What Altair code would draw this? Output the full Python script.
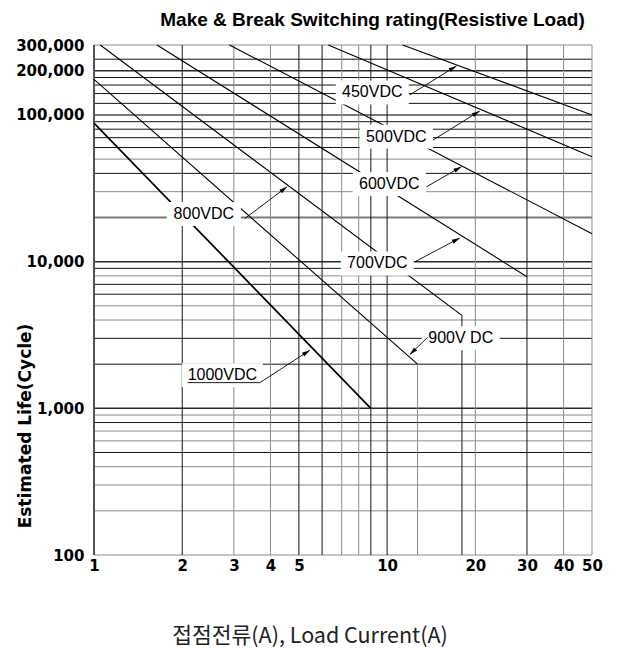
import math
import altair as alt
import pandas as pd

# ---------------- data ----------------
x_ticks = [1, 2, 3, 4, 5, 10, 20, 30, 40, 50]
y_ticks = [100, 1000, 10000, 100000, 200000, 300000]

# vertical grid lines (load current, A)
v_border = [1]
v_grid_dark = [2, 5, 6, 8.8, 10, 30]
v_grid_gray = [3, 4, 7, 8, 20, 40, 50]

# horizontal grid lines (cycles)
h_grid_dark = [240000, 180000, 160000, 140000, 120000, 90000, 80000, 70000,
               60000, 40000, 9000, 7000, 6000, 3000, 2000, 800, 500]
h_grid_gray = [300000, 50000, 30000, 8000, 5000, 4000, 900, 700, 600, 400,
               300, 200, 100]
h_grid_bold_dark = [200000, 10000, 1000]
h_grid_bold_gray = [100000, 20000]

# rating curves (straight lines on log-log paper)
series = ["450VDC", "500VDC", "600VDC", "700VDC", "800VDC", "900V DC", "1000VDC"]
start_current = [11.3, 6.3, 2.9, 1.64, 1.05, 1.0, 1.0]
start_life = [300000, 300000, 300000, 300000, 300000, 175000, 88000]
end_current = [50, 50, 50, 30, 18, 12.7, 8.8]
end_life = [100000, 52000, 15500, 7900, 4300, 2000, 1000]

# annotation labels (data coordinates)
label_x = [8.9, 10.75, 10.17, 9.26, 2.37, 17.83, 2.74]
label_y = [142500, 71100, 33800, 9720, 21100, 3000, 1680]
arrow_from_x = [11.95, 14.35, 13.63, 12.43, 3.27, 13.73, 3.68]
arrow_from_y = [137000, 67500, 32400, 9970, 19700, 3040, 1497]
arrow_to_x = [17.25, 20.7, 17.93, 17.7, 4.56, 11.95, 5.45]
arrow_to_y = [216000, 106500, 44400, 14500, 32400, 2325, 2489]
underline_start_x = 2.087   # leader under "1000VDC"

title_text = "Make & Break Switching rating(Resistive Load)"
x_title_text = "접점전류(A), Load Current(A)"
y_title_text = "Estimated Life(Cycle)"

# ---------------- layout / style ----------------
W, H = 498, 510
DARK = "#141414"
GRAY = "#8c8c8c"
box_w = [73, 73, 73, 73, 74, 78, 81]
box_h = 24

xs = alt.Scale(type="log", domain=[1, 50], nice=False)
ys = alt.Scale(type="log", domain=[100, 300000], nice=False)

x_axis = alt.Axis(values=x_ticks, format="d", labelFont="DejaVu Sans",
                  labelFontWeight="bold", labelFontSize=15, labelColor="black",
                  labelPadding=3, ticks=False, domain=False, grid=False,
                  labelFlush=False, labelOverlap=False, title=None)
y_axis = alt.Axis(values=y_ticks, format=",d", labelFont="DejaVu Sans",
                  labelFontWeight="bold", labelFontSize=15, labelColor="black",
                  labelPadding=10, ticks=False, domain=False, grid=False,
                  labelFlush=False, labelOverlap=False, title=None)


def X(f="I"):
    return alt.X(f"{f}:Q", scale=xs, axis=x_axis)


def Y(f="N"):
    return alt.Y(f"{f}:Q", scale=ys, axis=y_axis)


layers = []

# horizontal grid
for vals, col, sw in [(h_grid_gray, GRAY, 1), (h_grid_dark, DARK, 1),
                      (h_grid_bold_gray, "#7a7a7a", 2.2),
                      (h_grid_bold_dark, "#2a2a2a", 1.5)]:
    df = pd.DataFrame({"N": vals, "I": 1, "I2": 50})
    layers.append(alt.Chart(df).mark_rule(color=col, strokeWidth=sw)
                  .encode(x=X(), x2="I2:Q", y=Y()))

# vertical grid
for vals, col, sw in [(v_grid_gray, GRAY, 1), (v_grid_dark, DARK, 1),
                      (v_border, "#555555", 2)]:
    df = pd.DataFrame({"I": vals, "N": 300000, "N2": 100})
    layers.append(alt.Chart(df).mark_rule(color=col, strokeWidth=sw)
                  .encode(x=X(), y=Y(), y2="N2:Q"))

# partial vertical drops below the 900V DC and 800VDC curve ends
i900, i800 = series.index("900V DC"), series.index("800VDC")
for idx, col in [(i900, GRAY), (i800, DARK)]:
    df = pd.DataFrame({"I": [end_current[idx]], "N": [end_life[idx]], "N2": [100]})
    layers.append(alt.Chart(df).mark_rule(color=col, strokeWidth=1)
                  .encode(x=X(), y=Y(), y2="N2:Q"))

# curves
rows = []
for s, a, b, c, d in zip(series, start_current, start_life, end_current, end_life):
    rows.append({"s": s, "I": a, "N": b})
    rows.append({"s": s, "I": c, "N": d})
curves = pd.DataFrame(rows)
layers.append(alt.Chart(curves[curves.s != "1000VDC"]).mark_line(color="black", strokeWidth=1.1)
              .encode(x=X(), y=Y(), detail="s:N"))
layers.append(alt.Chart(curves[curves.s == "1000VDC"]).mark_line(color="black", strokeWidth=1.7)
              .encode(x=X(), y=Y(), detail="s:N"))

# white label boxes
for s, lx, ly, bw in zip(series, label_x, label_y, box_w):
    df = pd.DataFrame({"s": [s], "I": [lx], "N": [ly]})
    layers.append(alt.Chart(df).mark_rect(color="white", xOffset=-bw / 2, x2Offset=bw / 2,
                                          yOffset=-box_h / 2, y2Offset=box_h / 2)
                  .encode(x=X(), x2="I:Q", y=Y(), y2="N:Q"))

# leader lines
arows = []
for k, s in enumerate(series):
    pts = []
    if s == "1000VDC":
        pts.append((underline_start_x, arrow_from_y[k]))
    pts.append((arrow_from_x[k], arrow_from_y[k]))
    pts.append((arrow_to_x[k], arrow_to_y[k]))
    for j, (a, b) in enumerate(pts):
        arows.append({"s": s, "o": j, "I": a, "N": b})
arrows = pd.DataFrame(arows)
layers.append(alt.Chart(arrows).mark_line(color="black", strokeWidth=0.9)
              .encode(x=X(), y=Y(), detail="s:N", order="o:Q"))

# arrow heads (angle from the on-screen direction of each leader)
px_x = W / math.log10(50)
px_y = H / math.log10(3000)
angs = []
for k in range(len(series)):
    dx = (math.log10(arrow_to_x[k]) - math.log10(arrow_from_x[k])) * px_x
    dy = -(math.log10(arrow_to_y[k]) - math.log10(arrow_from_y[k])) * px_y
    angs.append(math.degrees(math.atan2(dy, dx)) % 360)
heads = pd.DataFrame({"I": arrow_to_x, "N": arrow_to_y, "ang": angs})
layers.append(alt.Chart(heads).mark_point(shape="M0,0 L-2,-0.55 L-2,0.55 Z", filled=True,
                                          size=64, color="black", opacity=1)
              .encode(x=X(), y=Y(), angle=alt.Angle("ang:Q", scale=None)))

# label texts
labels = pd.DataFrame({"s": series, "I": label_x, "N": label_y})
layers.append(alt.Chart(labels).mark_text(font="Liberation Sans", fontSize=16, color="black",
                                          baseline="middle", align="center")
              .encode(x=X(), y=Y(), text="s:N"))

# titles
layers.append(alt.Chart(pd.DataFrame({"t": [title_text]}))
              .mark_text(font="Liberation Sans", fontWeight="bold", fontSize=19,
                         color="black", baseline="middle", align="center")
              .encode(x=alt.value(278.5), y=alt.value(-25), text="t:N"))
layers.append(alt.Chart(pd.DataFrame({"t": [x_title_text]}))
              .mark_text(font="Noto Sans CJK KR", fontSize=21.5, color="#222222",
                         baseline="middle", align="center")
              .encode(x=alt.value(216), y=alt.value(592), text="t:N"))
layers.append(alt.Chart(pd.DataFrame({"t": [y_title_text]}))
              .mark_text(font="DejaVu Sans", fontWeight="bold", fontSize=17,
                         color="black", baseline="middle", align="center", angle=270)
              .encode(x=alt.value(-68), y=alt.value(381), text="t:N"))

chart = alt.layer(*layers).properties(
    width=W, height=H,
    autosize=alt.AutoSizeParams(type="none"),
    padding={"left": 86, "top": 37, "right": 21, "bottom": 93},
).configure_view(stroke=None)

chart.save("out.html", embed_options={"renderer": "svg", "actions": False})
